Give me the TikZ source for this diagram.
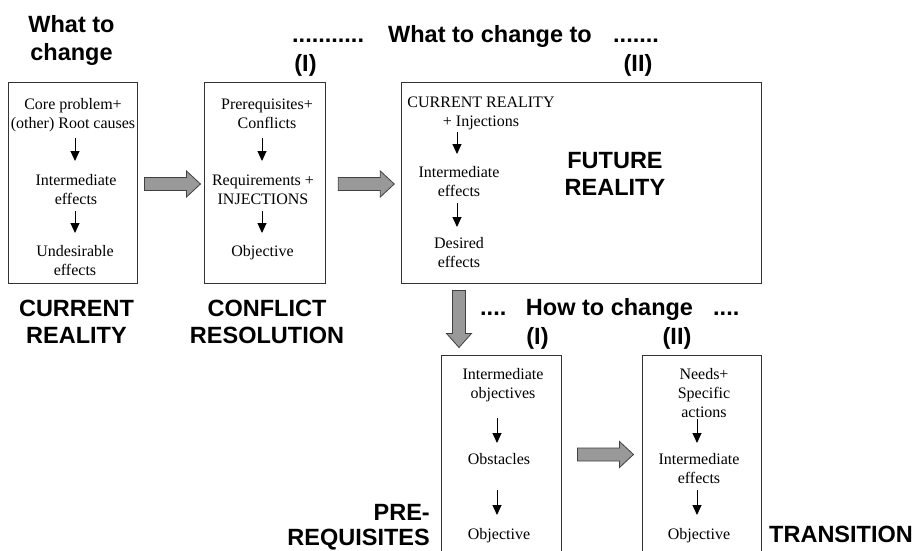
\documentclass[tikz,border=0pt]{standalone}
\usepackage{fontspec}
\setmainfont{Liberation Serif}
\setsansfont{Liberation Sans}
\usetikzlibrary{arrows.meta}

\tikzset{
  panel/.style={draw=black!80, line width=1pt, fill=white, inner sep=0pt},
  lbl/.style={font=\fontsize{16}{19}\selectfont, align=center, inner sep=0pt, anchor=north},
  hdr/.style={font=\sffamily\bfseries\fontsize{23.5}{27}\selectfont, inner sep=0pt},
  flow/.style={-{Triangle[width=9pt,length=10pt]}, line width=1pt},
  blockarrow/.style={fill=black!40, draw=black!75, line width=0.8pt},
  pics/rightblock/.style={code={
    \draw[blockarrow] (0,-6.5) -- (42,-6.5) -- (42,-13) -- (56,0) -- (42,13) -- (42,6.5) -- (0,6.5) -- cycle;}},
  pics/downblock/.style={code={
    \draw[blockarrow] (-6.5,0) -- (-6.5,43) -- (-12.5,43) -- (0,57) -- (12.5,43) -- (6.5,43) -- (6.5,0) -- cycle;}},
}

\begin{document}
\begin{tikzpicture}[x=1pt, y=-1pt]
\useasboundingbox (0,0) rectangle (916,551);
\clip (0,0) rectangle (916,551);

% ---- panels ----
\node[panel, minimum width=129, minimum height=200] (b1) at (72.5,183) {};
\node[panel, minimum width=121, minimum height=200] (b2) at (265.3,183) {};
\node[panel, minimum width=360, minimum height=200] (b3) at (581,183) {};
\node[panel, minimum width=120, minimum height=220] (b4) at (501,465) {};
\node[panel, minimum width=119, minimum height=220] (b5) at (701.5,465) {};

% ---- current reality ----
\node[lbl] (t11) at (73,96) {\strut Core problem+\\(other) Root causes\strut};
\node[lbl] (t12) at (76,172) {\strut Intermediate\\effects\strut};
\node[lbl] (t13) at (75,243) {\strut Undesirable\\effects\strut};
\draw[flow, shorten <=4, shorten >=11] ([xshift=2]t11.south) -- ([xshift=-1]t12.north);
\draw[flow, shorten <=1, shorten >=10] ([xshift=-1]t12.south) -- (t13.north);

% ---- conflict resolution ----
\node[lbl] (t21) at (267,96) {\strut Prerequisites+\\Conflicts\strut};
\node[lbl] (t22) at (263,172) {\strut Requirements +\\INJECTIONS\strut};
\node[lbl] (t23) at (262.5,243) {\strut Objective\strut};
\draw[flow, shorten <=4, shorten >=11] ([xshift=-5]t21.south) -- ([xshift=-1]t22.north);
\draw[flow, shorten <=1, shorten >=10] ([xshift=-1]t22.south) -- ([xshift=-0.5]t23.north);

% ---- future reality ----
\node[lbl] (t31) at (481,94) {\strut CURRENT REALITY\\+ Injections\strut};
\node[lbl] (t32) at (459,164) {\strut Intermediate\\effects\strut};
\node[lbl] (t33) at (459,235) {\strut Desired\\effects\strut};
\draw[flow, shorten <=0, shorten >=10] (t31.south -| t32.north) ++(-2,0) -- ([xshift=-2]t32.north);
\draw[flow, shorten <=1, shorten >=8] ([xshift=-2]t32.south) -- ([xshift=-2]t33.north);
\node[hdr, align=center, anchor=north] (fr) at (615,149) {\strut FUTURE\\REALITY\strut};

% ---- prerequisites ----
\node[lbl] (t41) at (503,366) {\strut Intermediate\\objectives\strut};
\node[lbl] (t42) at (499,451) {\strut Obstacles\strut};
\node[lbl] (t43) at (499,526) {\strut Objective\strut};
\draw[flow, shorten <=14, shorten >=8] ([xshift=-6]t41.south) -- ([xshift=-2]t42.north);
\draw[flow, shorten <=20, shorten >=11] ([xshift=-2]t42.south) -- ([xshift=-2]t43.north);

% ---- transition ----
\node[lbl] (t51) at (704,366) {\strut Needs+\\Specific\\actions\strut};
\node[lbl] (t52) at (699,451) {\strut Intermediate\\effects\strut};
\node[lbl] (t53) at (699,526) {\strut Objective\strut};
\draw[flow, shorten <=-4, shorten >=8] ([xshift=-7]t51.south) -- ([xshift=-2]t52.north);
\draw[flow, shorten <=1, shorten >=11] ([xshift=-2]t52.south) -- ([xshift=-2]t53.north);

% ---- block arrows between panels ----
\pic at ([shift={(7,1)}]b1.east) {rightblock};
\pic at ([shift={(12,1)}]b2.east) {rightblock};
\pic at ([shift={(58.5,7)}]b3.south west) {downblock};
\pic at ([shift={(16,100)}]b4.north east) {rightblock};

% ---- headings ----
\node[hdr, align=center, anchor=north, font=\sffamily\bfseries\fontsize{23.5}{28}\selectfont] (h1) at (71.5,12.4) {\strut What to\\change\strut};
\node[hdr, anchor=base west] (d1) at (292,43) {...........};
\node[hdr, anchor=base] (h2) at (490,43) {What to change to};
\node[hdr, anchor=base west] (d2) at (613,43) {.......};
\node[hdr, anchor=base] (r1) at (305.5,72) {(I)};
\node[hdr, anchor=base] (r2) at (638,72) {(II)};

\node[hdr, align=center, anchor=north] (cr) at (76.5,297) {\strut CURRENT\\REALITY\strut};
\node[hdr, align=center, anchor=north] (cf) at (267,297) {\strut CONFLICT\\RESOLUTION\strut};

\node[hdr, anchor=base west] (d3) at (480,315) {....};
\node[hdr, anchor=base] (h3) at (609.5,315) {How to change};
\node[hdr, anchor=base west] (d4) at (713,315) {....};
\node[hdr, anchor=base] (r3) at (537.5,344) {(I)};
\node[hdr, anchor=base] (r4) at (677,344) {(II)};

\node[hdr, align=right, anchor=north east, font=\sffamily\bfseries\fontsize{23.5}{25}\selectfont] (pr) at (430,503) {\strut PRE-\\REQUISITES};
\node[hdr, anchor=base west] (tr) at (769,542) {TRANSITION};
\end{tikzpicture}
\end{document}
